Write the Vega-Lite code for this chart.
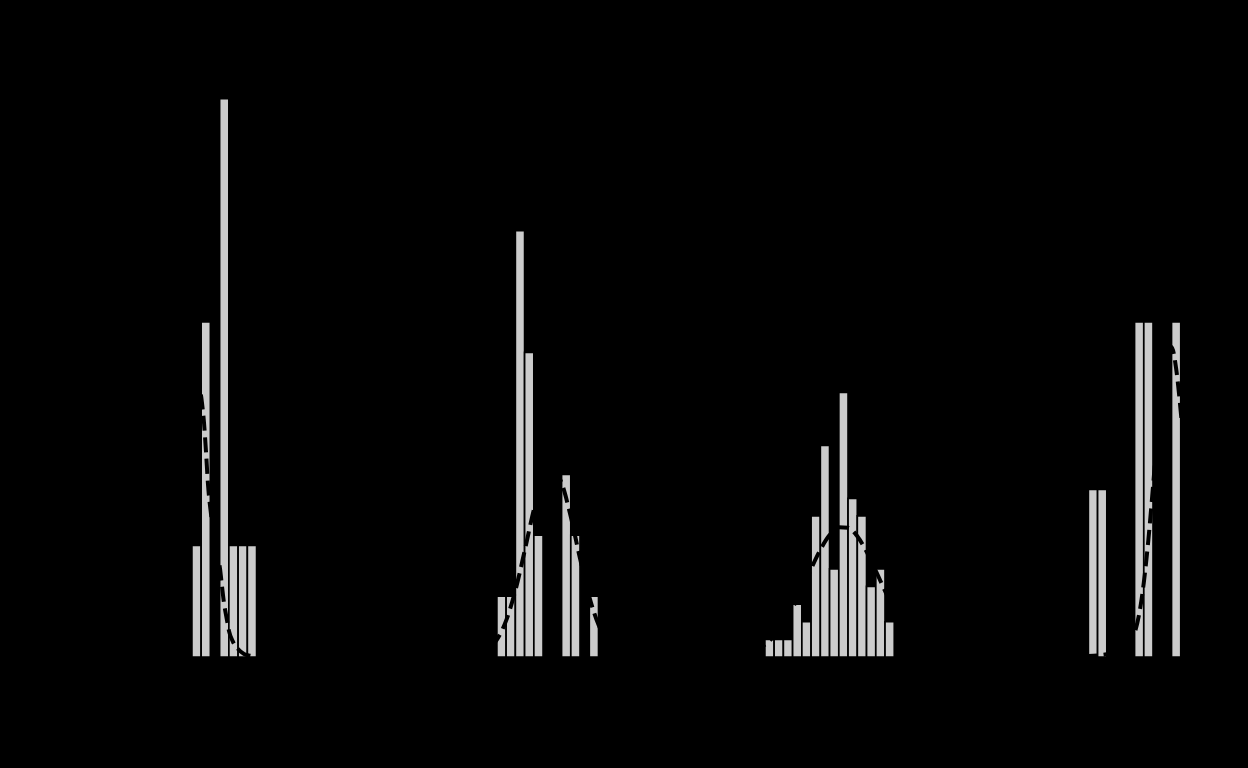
{
  "$schema": "https://vega.github.io/schema/vega-lite/v6.json",
  "width": 1127.5,
  "height": 603,
  "autosize": {"type": "none"},
  "padding": {"left": 99.48, "top": 54, "right": 21, "bottom": 111},
  "background": "#000000",
  "config": {
    "view": {"stroke": null},
    "axis": {
      "grid": false,
      "domainColor": "#000000",
      "tickColor": "#000000",
      "labelColor": "#000000",
      "titleColor": "#000000",
      "labelFont": "DejaVu Sans",
      "titleFont": "DejaVu Sans",
      "labelFontSize": 12,
      "titleFontSize": 13
    }
  },
  "datasets": {
    "bars": [
      {"group": "A", "x0": 10, "x1": 11, "density": 0.08333},
      {"group": "A", "x0": 11, "x1": 12, "density": 0.25},
      {"group": "A", "x0": 13, "x1": 14, "density": 0.41667},
      {"group": "A", "x0": 14, "x1": 15, "density": 0.08333},
      {"group": "A", "x0": 15, "x1": 16, "density": 0.08333},
      {"group": "A", "x0": 16, "x1": 17, "density": 0.08333},
      {"group": "B", "x0": 43, "x1": 44, "density": 0.04545},
      {"group": "B", "x0": 44, "x1": 45, "density": 0.04545},
      {"group": "B", "x0": 45, "x1": 46, "density": 0.31818},
      {"group": "B", "x0": 46, "x1": 47, "density": 0.22727},
      {"group": "B", "x0": 47, "x1": 48, "density": 0.09091},
      {"group": "B", "x0": 50, "x1": 51, "density": 0.13636},
      {"group": "B", "x0": 51, "x1": 52, "density": 0.09091},
      {"group": "B", "x0": 53, "x1": 54, "density": 0.04545},
      {"group": "C", "x0": 72, "x1": 73, "density": 0.01316},
      {"group": "C", "x0": 73, "x1": 74, "density": 0.01316},
      {"group": "C", "x0": 74, "x1": 75, "density": 0.01316},
      {"group": "C", "x0": 75, "x1": 76, "density": 0.03947},
      {"group": "C", "x0": 76, "x1": 77, "density": 0.02632},
      {"group": "C", "x0": 77, "x1": 78, "density": 0.10526},
      {"group": "C", "x0": 78, "x1": 79, "density": 0.15789},
      {"group": "C", "x0": 79, "x1": 80, "density": 0.06579},
      {"group": "C", "x0": 80, "x1": 81, "density": 0.19737},
      {"group": "C", "x0": 81, "x1": 82, "density": 0.11842},
      {"group": "C", "x0": 82, "x1": 83, "density": 0.10526},
      {"group": "C", "x0": 83, "x1": 84, "density": 0.05263},
      {"group": "C", "x0": 84, "x1": 85, "density": 0.06579},
      {"group": "C", "x0": 85, "x1": 86, "density": 0.02632},
      {"group": "D", "x0": 107, "x1": 108, "density": 0.125},
      {"group": "D", "x0": 108, "x1": 109, "density": 0.125},
      {"group": "D", "x0": 112, "x1": 113, "density": 0.25},
      {"group": "D", "x0": 113, "x1": 114, "density": 0.25},
      {"group": "D", "x0": 116, "x1": 117, "density": 0.25}
    ],
    "curves": [
      {"group": "A", "x": 4.38, "density": 0.0022},
      {"group": "A", "x": 5.46, "density": 0.0113},
      {"group": "A", "x": 6.54, "density": 0.0375},
      {"group": "A", "x": 7.63, "density": 0.09},
      {"group": "A", "x": 8.49, "density": 0.1575},
      {"group": "A", "x": 9.25, "density": 0.2063},
      {"group": "A", "x": 9.79, "density": 0.2235},
      {"group": "A", "x": 10.34, "density": 0.219},
      {"group": "A", "x": 10.77, "density": 0.204},
      {"group": "A", "x": 11.09, "density": 0.1898},
      {"group": "A", "x": 11.31, "density": 0.1748},
      {"group": "A", "x": 11.52, "density": 0.1538},
      {"group": "A", "x": 11.74, "density": 0.129},
      {"group": "A", "x": 12.07, "density": 0.1065},
      {"group": "A", "x": 12.4, "density": 0.09},
      {"group": "A", "x": 12.72, "density": 0.0765},
      {"group": "A", "x": 13.04, "density": 0.066},
      {"group": "A", "x": 13.26, "density": 0.0525},
      {"group": "A", "x": 13.47, "density": 0.0405},
      {"group": "A", "x": 13.77, "density": 0.0285},
      {"group": "A", "x": 14.01, "density": 0.0195},
      {"group": "A", "x": 14.45, "density": 0.0113},
      {"group": "A", "x": 14.99, "density": 0.006},
      {"group": "A", "x": 15.64, "density": 0.0023},
      {"group": "A", "x": 16.29, "density": 0.001},
      {"group": "A", "x": 16.93, "density": 0.0004},
      {"group": "A", "x": 17.6, "density": 0.0001},
      {"group": "B", "x": 38, "density": 0.00004},
      {"group": "B", "x": 39, "density": 0.00017},
      {"group": "B", "x": 40, "density": 0.00062},
      {"group": "B", "x": 41, "density": 0.00196},
      {"group": "B", "x": 42, "density": 0.0054},
      {"group": "B", "x": 43, "density": 0.01296},
      {"group": "B", "x": 44, "density": 0.02714},
      {"group": "B", "x": 45, "density": 0.0496},
      {"group": "B", "x": 46, "density": 0.079},
      {"group": "B", "x": 47, "density": 0.1099},
      {"group": "B", "x": 48, "density": 0.1332},
      {"group": "B", "x": 49, "density": 0.1409},
      {"group": "B", "x": 50, "density": 0.13},
      {"group": "B", "x": 51, "density": 0.1046},
      {"group": "B", "x": 52, "density": 0.0734},
      {"group": "B", "x": 53, "density": 0.045},
      {"group": "B", "x": 54, "density": 0.024},
      {"group": "B", "x": 55, "density": 0.01118},
      {"group": "B", "x": 56, "density": 0.00454},
      {"group": "B", "x": 57, "density": 0.00161},
      {"group": "B", "x": 58, "density": 0.0005},
      {"group": "B", "x": 59, "density": 0.00013},
      {"group": "C", "x": 66, "density": 0.0001},
      {"group": "C", "x": 67, "density": 0.00025},
      {"group": "C", "x": 68, "density": 0.00059},
      {"group": "C", "x": 69, "density": 0.0013},
      {"group": "C", "x": 70, "density": 0.00267},
      {"group": "C", "x": 71, "density": 0.00514},
      {"group": "C", "x": 72, "density": 0.00927},
      {"group": "C", "x": 73, "density": 0.01565},
      {"group": "C", "x": 74, "density": 0.02475},
      {"group": "C", "x": 75, "density": 0.03663},
      {"group": "C", "x": 76, "density": 0.05076},
      {"group": "C", "x": 77, "density": 0.06586},
      {"group": "C", "x": 78, "density": 0.08},
      {"group": "C", "x": 79, "density": 0.09097},
      {"group": "C", "x": 80, "density": 0.09686},
      {"group": "C", "x": 81, "density": 0.09653},
      {"group": "C", "x": 82, "density": 0.09008},
      {"group": "C", "x": 83, "density": 0.07869},
      {"group": "C", "x": 84, "density": 0.06436},
      {"group": "C", "x": 85, "density": 0.04928},
      {"group": "C", "x": 86, "density": 0.03532},
      {"group": "C", "x": 87, "density": 0.02371},
      {"group": "C", "x": 88, "density": 0.0149},
      {"group": "C", "x": 89, "density": 0.00877},
      {"group": "C", "x": 90, "density": 0.00482},
      {"group": "C", "x": 91, "density": 0.00249},
      {"group": "C", "x": 92, "density": 0.0012},
      {"group": "C", "x": 93, "density": 0.00054},
      {"group": "C", "x": 94, "density": 0.00023},
      {"group": "C", "x": 95, "density": 0.00009},
      {"group": "D", "x": 104, "density": 0.0004},
      {"group": "D", "x": 105, "density": 0.0005},
      {"group": "D", "x": 106, "density": 0.0006},
      {"group": "D", "x": 107, "density": 0.0008},
      {"group": "D", "x": 108, "density": 0.0012},
      {"group": "D", "x": 109, "density": 0.002},
      {"group": "D", "x": 110, "density": 0.004},
      {"group": "D", "x": 110.5, "density": 0.006},
      {"group": "D", "x": 111, "density": 0.009},
      {"group": "D", "x": 111.5, "density": 0.0125},
      {"group": "D", "x": 112, "density": 0.018},
      {"group": "D", "x": 112.5, "density": 0.032},
      {"group": "D", "x": 113, "density": 0.0554},
      {"group": "D", "x": 113.5, "density": 0.0878},
      {"group": "D", "x": 114, "density": 0.1273},
      {"group": "D", "x": 114.5, "density": 0.169},
      {"group": "D", "x": 115, "density": 0.2051},
      {"group": "D", "x": 115.5, "density": 0.2278},
      {"group": "D", "x": 116, "density": 0.2314},
      {"group": "D", "x": 116.5, "density": 0.2152},
      {"group": "D", "x": 117, "density": 0.183},
      {"group": "D", "x": 117.5, "density": 0.1425},
      {"group": "D", "x": 118, "density": 0.1014},
      {"group": "D", "x": 118.5, "density": 0.0661},
      {"group": "D", "x": 119, "density": 0.0394},
      {"group": "D", "x": 119.5, "density": 0.0215},
      {"group": "D", "x": 120, "density": 0.0107},
      {"group": "D", "x": 120.5, "density": 0.0049},
      {"group": "D", "x": 121, "density": 0.002},
      {"group": "D", "x": 121.5, "density": 0.0008},
      {"group": "D", "x": 122, "density": 0.0003}
    ]
  },
  "layer": [
    {
      "data": {"name": "bars"},
      "mark": {"type": "rect", "fill": "#cccccc", "stroke": "#000000", "strokeWidth": 1.7},
      "encoding": {
        "x": {"field": "x0", "type": "quantitative", "scale": {"domain": [0, 122], "nice": false, "zero": false}, "axis": {"title": "Value"}},
        "x2": {"field": "x1"},
        "y": {"field": "density", "type": "quantitative", "scale": {"domain": [0, 0.45], "nice": false}, "axis": {"title": "Density"}},
        "y2": {"datum": 0}
      }
    },
    {
      "data": {"name": "curves"},
      "mark": {"type": "line", "stroke": "#000000", "strokeWidth": 4, "strokeDash": [15, 6.5], "strokeCap": "butt", "interpolate": "monotone"},
      "encoding": {
        "x": {"field": "x", "type": "quantitative"},
        "y": {"field": "density", "type": "quantitative"},
        "detail": {"field": "group"}
      }
    }
  ]
}
